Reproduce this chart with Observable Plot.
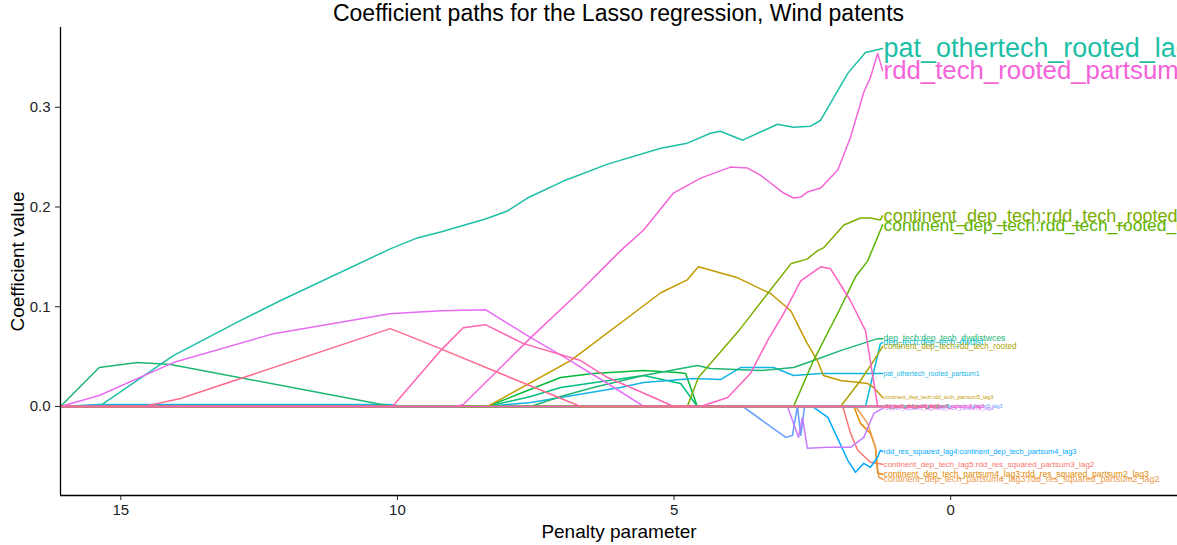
<!DOCTYPE html>
<html><head><meta charset="utf-8">
<script src="https://cdn.jsdelivr.net/npm/d3@7"></script>
<script src="https://cdn.jsdelivr.net/npm/@observablehq/plot@0.6"></script>
<style>
html,body{margin:0;padding:0;background:#fff;overflow:hidden;width:1177px;height:545px}
#title{height:27px;line-height:27px;font:23px "Liberation Sans",Arial,sans-serif;color:#000;text-align:center;padding-left:60px;box-sizing:border-box;width:1177px;white-space:nowrap}
</style></head><body>
<div id="title">Coefficient paths for the Lasso regression, Wind patents</div>
<div id="chart"></div>
<script>
// Each path: [penalty parameter, coefficient value]
const salmonPath = [[16.09,0],[1.95,0],[1.81,-0.027],[1.68,-0.044],[1.45,-0.056],[1.23,-0.058]];
const orange1Path = [[16.09,0],[1.75,0],[1.63,-0.017],[1.45,-0.027],[1.36,-0.041],[1.32,-0.067],[1.23,-0.068]];
const orange2Path = [[16.09,0],[1.72,0],[1.50,-0.017],[1.36,-0.041],[1.30,-0.071],[1.23,-0.073]];
const skyPath = [[16.09,0],[2.50,0],[2.22,-0.011],[1.86,-0.054],[1.72,-0.066],[1.57,-0.057],[1.45,-0.061],[1.32,-0.051],[1.27,-0.044],[1.23,-0.045]];
const periwinklePath = [[16.09,0],[3.76,0],[2.98,-0.031],[2.86,-0.029],[2.77,0],[2.71,-0.029],[2.64,0],[1.23,0]];
const violetPath = [[16.09,0],[2.95,0],[2.75,-0.031],[2.68,-0.011],[2.59,-0.042],[2.22,-0.041],[1.81,-0.041],[1.57,-0.031],[1.39,-0.007],[1.23,-0.002]];
const greenAPath = [[16.09,0],[8.37,0],[7.65,0.016],[7.05,0.029],[6.46,0.033],[5.55,0.036],[4.94,0.034],[4.79,0.033],[4.58,0],[1.23,0]];
const greenDPath = [[16.09,0],[8.37,0],[7.59,0.010],[7.05,0.019],[5.55,0.031],[4.88,0.023],[4.58,0],[1.23,0]];
const cyanCPath = [[16.09,0],[15.39,0.002],[10.13,0.002],[9.90,0],[8.37,0],[7.59,0.004],[7.05,0.009],[5.97,0.019],[5.55,0.024],[4.65,0.028],[4.16,0.027],[3.80,0.039],[3.20,0.039],[2.84,0.031],[2.35,0.033],[1.23,0.033]];
const greenBPath = [[16.09,0],[15.39,0.039],[14.70,0.044],[14.10,0.042],[10.09,0],[7.59,0],[7.05,0.010],[6.46,0.019],[5.55,0.031],[4.58,0.041],[4.34,0.038],[3.44,0.036],[2.84,0.039],[2.48,0.046],[1.99,0.056],[1.32,0.068],[1.23,0.068]];
const cyanSteepPath = [[16.09,0],[1.54,0],[1.27,0.063],[1.23,0.064]];
const oliveGoldPath = [[16.09,0],[1.99,0],[1.63,0.026],[1.39,0.046],[1.23,0.060]];
const goldPath = [[16.09,0],[8.37,0],[6.87,0.046],[5.24,0.114],[4.76,0.127],[4.56,0.140],[3.85,0.129],[3.25,0.113],[2.89,0.096],[2.71,0.076],[2.59,0.063],[2.41,0.046],[2.30,0.031],[1.99,0.026],[1.50,0.023],[1.39,0.019],[1.23,0.009]];
const green2Path = [[16.09,0],[2.84,0],[2.48,0.046],[1.99,0.099],[1.72,0.130],[1.50,0.146],[1.23,0.182]];
const olivePath = [[16.09,0],[4.76,0],[4.56,0.029],[3.80,0.078],[3.31,0.113],[2.89,0.143],[2.59,0.148],[2.41,0.156],[2.30,0.159],[1.93,0.182],[1.63,0.189],[1.45,0.189],[1.27,0.187],[1.23,0.191]];
const tealLagPath = [[16.09,0],[15.39,0],[14.05,0.051],[12.84,0.086],[12.12,0.106],[10.13,0.158],[9.64,0.169],[9.22,0.175],[8.41,0.188],[8.01,0.196],[7.65,0.209],[7.00,0.226],[6.20,0.243],[5.24,0.259],[4.76,0.264],[4.34,0.274],[4.16,0.276],[3.76,0.267],[3.13,0.283],[2.84,0.280],[2.53,0.281],[2.35,0.287],[1.86,0.334],[1.54,0.355],[1.23,0.359]];
const rddPinkPath = [[16.09,0],[8.95,0],[8.81,0.002],[7.59,0.069],[6.69,0.116],[6.15,0.146],[5.97,0.156],[5.55,0.177],[5.01,0.214],[4.52,0.229],[3.98,0.240],[3.67,0.239],[3.44,0.232],[3.02,0.214],[2.84,0.209],[2.71,0.210],[2.59,0.215],[2.35,0.219],[2.04,0.237],[1.81,0.270],[1.57,0.315],[1.45,0.330],[1.32,0.354],[1.23,0.337]];
const violetPinkPath = [[16.09,0],[15.39,0.011],[14.05,0.044],[12.24,0.073],[10.13,0.093],[9.22,0.096],[8.41,0.097],[7.59,0.069],[7.00,0.050],[6.20,0.023],[5.55,0],[1.23,0]];
const rosePath = [[16.09,0],[4.52,0],[4.03,0.009],[3.62,0.033],[3.31,0.066],[3.02,0.093],[2.71,0.126],[2.35,0.140],[2.17,0.138],[1.81,0.106],[1.54,0.076],[1.32,0],[1.23,0]];
const rose2Path = [[16.09,0],[10.09,0],[9.22,0.056],[8.81,0.079],[8.41,0.082],[7.72,0.063],[6.69,0.046],[6.20,0.029],[5.37,0.009],[5.01,0],[1.23,0]];
const rose1Path = [[16.09,0],[14.59,0],[13.92,0.008],[10.13,0.078],[9.58,0.066],[6.69,0],[1.23,0]];

const seriesNames = [
  "continent_dep_tech_lag5:rdd_res_squared_partsum3_lag2",
  "continent_dep_tech_partsum4_lag3:rdd_res_squared_partsum2_lag3",
  "continent_dep_tech_partsum4_lag3:rdd_res_squared_partsum2_lag2",
  "rdd_res_squared_lag4:continent_dep_tech_partsum4_lag3",
  "rdd_res_squared:continent_dep_tech_partsum5_lag3",
  "rdd_res_squared_lag1:dep_tech_partsum5_lag3",
  "dep_tech:rdd_tech_partsum2",
  "dep_tech:rdd_tech_partsum3",
  "pat_othertech_rooted_partsum1",
  "dep_tech:dep_tech_dwdistwces",
  "dep_tech:dep_tech_dwdist",
  "continent_dep_tech:rdd_tech_rooted",
  "continent_dep_tech:rdd_tech_partsum5_lag3",
  "continent_dep_tech:rdd_tech_rooted_lag1",
  "continent_dep_tech:rdd_tech_rooted_partsum1",
  "pat_othertech_rooted_lag1",
  "rdd_tech_rooted_partsum1",
  "continent_dep_tech:rdd_tech_partsum4_lag3",
  "continent_dep_tech:rdd_tech_partsum3_lag3",
  "rdd_tech_partsum4_lag3",
  "rdd_tech_partsum5_lag3"
];
const seriesPaths = [salmonPath, orange1Path, orange2Path, skyPath, periwinklePath, violetPath,
  greenAPath, greenDPath, cyanCPath, greenBPath, cyanSteepPath, oliveGoldPath, goldPath,
  green2Path, olivePath, tealLagPath, rddPinkPath, violetPinkPath, rosePath, rose2Path, rose1Path];
const seriesColors = ["#F8766D","#E18A00","#EE9A4D","#00A9FF","#619CFF","#C77CFF",
  "#00BA38","#00BF7D","#13B3E6","#1DB673","#00BCD8","#ABA300","#C49A00",
  "#5BB300","#7CAE00","#1CBFA6","#F564D8","#E76BF3","#FF61C3","#FF64B0","#FF6C91"];

const xTicks = [15, 10, 5, 0];
const yTicks = [0, 0.1, 0.2, 0.3];
const xDomain = [16.09, -4.10];
const yDomain = [-0.0893, 0.380];

// label size grows with the magnitude of the final coefficient
const labelSize = d3.scaleLinear().domain([0, 0.07, 0.19, 0.36]).range([5, 8.7, 18, 27]).clamp(true);

const rows = seriesPaths.flatMap((p, i) => p.map(([x, y]) => ({series: seriesNames[i], x, y})));
const ends = seriesPaths.map((p, i) => {
  const [x, y] = p[p.length - 1];
  return {series: seriesNames[i], x, y, size: labelSize(Math.abs(y))};
});

const font = '"Liberation Sans", Arial, Helvetica, sans-serif';
const chart = Plot.plot({
  width: 1177, height: 518,
  marginTop: 0, marginLeft: 60, marginRight: 0, marginBottom: 50,
  style: {fontFamily: font, background: "#fff", overflow: "visible"},
  x: {domain: xDomain},
  y: {domain: yDomain},
  color: {domain: seriesNames, range: seriesColors},
  marks: [
    Plot.line(rows, {x: "x", y: "y", z: "series", stroke: "series", strokeWidth: 1.5, curve: "linear"}),
    Plot.text(ends, {x: "x", y: "y", text: "series", fill: "series", textAnchor: "start", dx: 1, fontSize: "size"}),
    Plot.ruleX([xDomain[0]], {stroke: "#000", strokeWidth: 1.3}),
    Plot.ruleY([yDomain[0]], {stroke: "#000", strokeWidth: 1.3}),
    Plot.axisY({ticks: yTicks, tickFormat: d3.format(".1f"), tickSize: 5, tickPadding: 5, fontSize: 15, color: "#222", label: null}),
    Plot.axisX({ticks: xTicks, tickFormat: d => String(d), tickSize: 5, tickPadding: 4, fontSize: 15, color: "#222", label: null}),
    Plot.text(["Penalty parameter"], {frameAnchor: "bottom", dy: 36, lineAnchor: "middle", fontSize: 19, fill: "#000"}),
    Plot.text(["Coefficient value"], {frameAnchor: "left", dx: -43, rotate: -90, textAnchor: "middle", lineAnchor: "middle", fontSize: 19, fill: "#000"})
  ]
});
document.getElementById("chart").appendChild(chart);
</script>
</body></html>
